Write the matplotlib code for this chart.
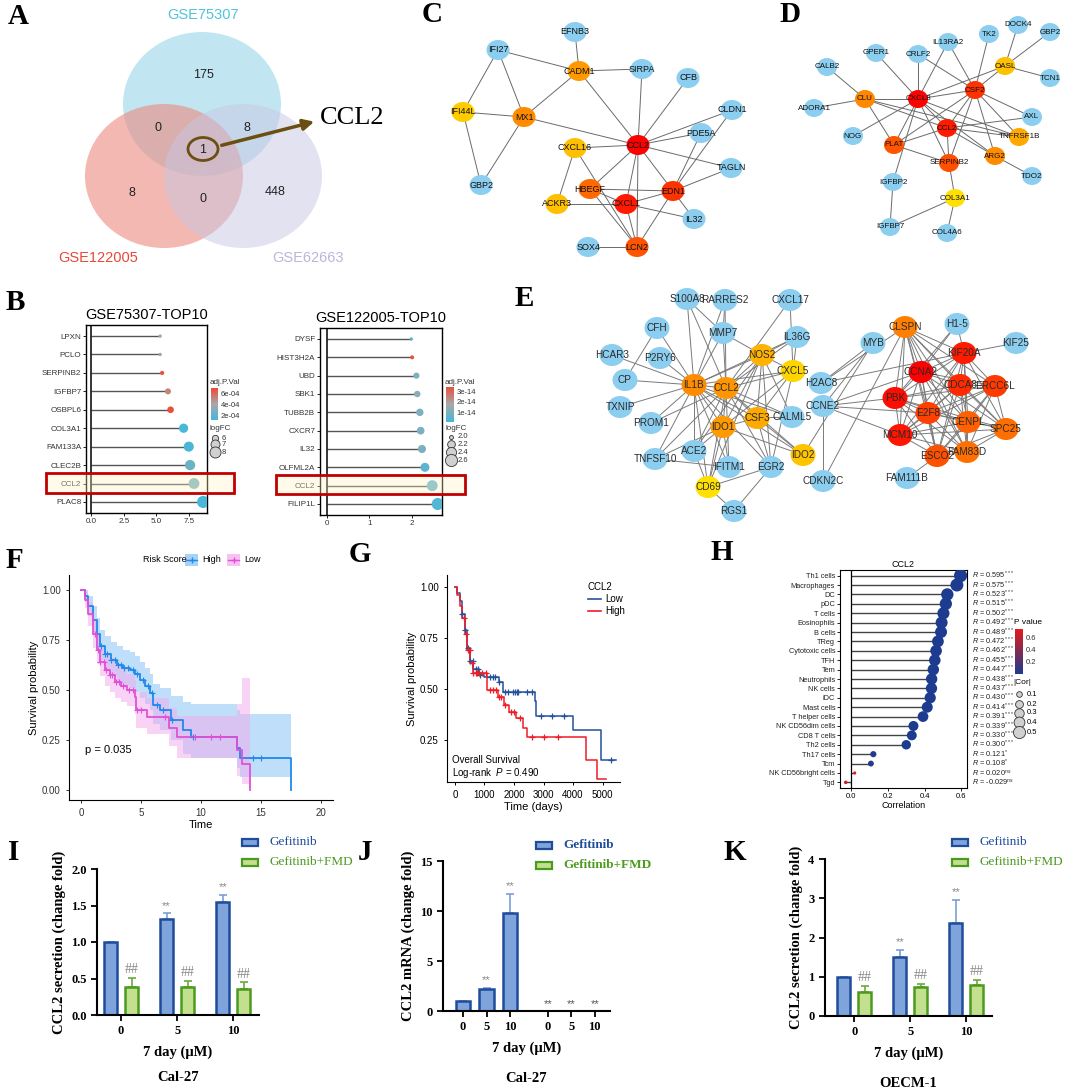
import itertools
import numpy as np
import matplotlib
matplotlib.use("Agg")
import matplotlib.pyplot as plt
from matplotlib.patches import Ellipse, Rectangle, FancyArrowPatch
from matplotlib.colors import LinearSegmentedColormap

plt.rcParams["font.family"] = ["Liberation Sans", "DejaVu Sans"]
plt.rcParams["mathtext.fontset"] = "custom"
plt.rcParams["mathtext.rm"] = "Liberation Sans"
plt.rcParams["mathtext.it"] = "Liberation Sans:italic"
plt.rcParams["axes.facecolor"] = "none"
SERIF = ["Liberation Serif", "DejaVu Serif"]

# ===============================
# DATA
# ===============================
# A - venn
venn_names = ["GSE75307", "GSE122005", "GSE62663"]
venn_counts = [175, 0, 8, 1, 8, 0, 448]   # T, T&R, T&P, all, R, R&P, P

# B - top10 lollipops
b1_genes = ["LPXN", "PCLO", "SERPINB2", "IGFBP7", "OSBPL6", "COL3A1", "FAM133A", "CLEC2B", "CCL2", "PLAC8"]
b1_logfc = [5.3, 5.3, 5.45, 5.9, 6.1, 7.1, 7.5, 7.6, 7.9, 8.6]
b1_padj = [3.6e-4, 4.4e-4, 6.6e-4, 5.2e-4, 6.8e-4, 1.3e-4, 1.4e-4, 2.3e-4, 2.6e-4, 1.3e-4]
b2_genes = ["DYSF", "HIST3H2A", "UBD", "SBK1", "TUBB2B", "CXCR7", "IL32", "OLFML2A", "CCL2", "FILIP1L"]
b2_logfc = [1.98, 2.0, 2.1, 2.12, 2.18, 2.2, 2.23, 2.3, 2.47, 2.6]
b2_padj = [0.4e-14, 3.3e-14, 1.0e-14, 1.2e-14, 1.0e-14, 0.95e-14, 0.95e-14, 0.45e-14, 0.5e-14, 0.3e-14]

# F - KM by risk score
f_high_t = [0, 0.3, 0.6, 1.0, 1.3, 1.6, 2.0, 2.5, 3.0, 3.5, 4.1, 4.5, 4.9, 5.3, 5.75, 6.0, 6.6, 7.5, 8.5, 9.2, 13.0, 13.25, 17.5]
f_high_s = [1.0, 0.97, 0.92, 0.85, 0.78, 0.72, 0.68, 0.65, 0.625, 0.61, 0.60, 0.58, 0.55, 0.52, 0.485, 0.425, 0.40, 0.35, 0.30, 0.265, 0.21, 0.16, 0.0]
f_high_up = [1.0, 1.0, 0.97, 0.92, 0.86, 0.80, 0.77, 0.74, 0.72, 0.70, 0.69, 0.67, 0.64, 0.61, 0.58, 0.53, 0.51, 0.47, 0.44, 0.43, 0.40, 0.38, 0.38]
f_high_lo = [1.0, 0.94, 0.87, 0.79, 0.71, 0.65, 0.60, 0.57, 0.54, 0.52, 0.51, 0.49, 0.46, 0.43, 0.40, 0.33, 0.30, 0.25, 0.18, 0.16, 0.11, 0.065, 0.065]
f_low_t = [0, 0.3, 0.6, 1.0, 1.3, 1.6, 2.0, 2.4, 2.8, 3.3, 3.8, 4.5, 4.6, 5.5, 7.3, 8.0, 13.0, 13.4, 14.1]
f_low_s = [1.0, 0.95, 0.88, 0.78, 0.70, 0.64, 0.60, 0.575, 0.54, 0.52, 0.50, 0.465, 0.40, 0.365, 0.31, 0.265, 0.20, 0.13, 0.0]
f_low_up = [1.0, 0.99, 0.94, 0.85, 0.78, 0.72, 0.68, 0.66, 0.62, 0.60, 0.58, 0.55, 0.49, 0.46, 0.41, 0.37, 0.43, 0.56, 0.56]
f_low_lo = [1.0, 0.91, 0.82, 0.71, 0.63, 0.57, 0.52, 0.49, 0.46, 0.44, 0.42, 0.38, 0.31, 0.28, 0.22, 0.16, 0.07, 0.03, 0.03]
f_high_cens = [1.7, 2.0, 2.2, 2.5, 2.8, 3.1, 3.3, 3.6, 3.9, 4.3, 4.7, 5.2, 5.6, 5.9, 6.3, 6.8, 7.6, 9.3, 14.3, 15.0]
f_low_cens = [1.2, 1.4, 1.6, 1.9, 2.1, 2.4, 2.6, 2.9, 3.2, 3.5, 4.0, 4.3, 4.7, 5.0, 7.0, 9.5, 10.8, 11.6]

# G - KM by CCL2
g_low_t = [0, 80, 160, 250, 330, 410, 520, 620, 800, 970, 1480, 1620, 2700, 2760, 4000, 4950, 5450]
g_low_s = [1.0, 0.97, 0.93, 0.87, 0.79, 0.70, 0.64, 0.60, 0.57, 0.56, 0.535, 0.485, 0.44, 0.37, 0.30, 0.15, 0.15]
g_high_t = [0, 80, 160, 250, 330, 410, 520, 620, 1100, 1450, 1650, 1830, 2070, 2300, 2450, 4450, 4800, 5100]
g_high_s = [1.0, 0.96, 0.91, 0.85, 0.77, 0.69, 0.63, 0.58, 0.495, 0.46, 0.42, 0.39, 0.36, 0.31, 0.265, 0.15, 0.06, 0.06]
g_low_cens = [250, 350, 450, 520, 600, 700, 780, 850, 1200, 1300, 1350, 1500, 1700, 1800, 1950, 2050, 2100, 2150, 2450, 2600, 2900, 3300, 3700, 5300]
g_high_cens = [300, 380, 450, 500, 560, 620, 700, 760, 820, 900, 1050, 1200, 1300, 1400, 1480, 1560, 1700, 1900, 2000, 2200, 2600, 3000, 3500]
g_groups = ["Low", "High"]

# H - immune correlation
h_cells = ["Th1 cells", "Macrophages", "DC", "pDC", "T cells", "Eosinophils", "B cells", "TReg",
           "Cytotoxic cells", "TFH", "Tem", "Neutrophils", "NK cells", "iDC", "Mast cells",
           "T helper cells", "NK CD56dim cells", "CD8 T cells", "Th2 cells", "Th17 cells", "Tcm",
           "NK CD56bright cells", "Tgd"]
h_r = [0.595, 0.575, 0.523, 0.515, 0.502, 0.492, 0.489, 0.472, 0.462, 0.455, 0.447, 0.438, 0.437,
       0.430, 0.414, 0.391, 0.339, 0.330, 0.300, 0.121, 0.108, 0.020, -0.029]
h_p = [1e-6] * 19 + [0.03, 0.04, 0.74, 0.64]
h_sig = ["***"] * 19 + ["*", "*", "ns", "ns"]

# I / J / K - bars
doses = ["0", "5", "10"]
i_gef = [1.0, 1.31, 1.55]
i_gef_err = [0.0, 0.09, 0.10]
i_fmd = [0.38, 0.38, 0.36]
i_fmd_err = [0.13, 0.09, 0.09]
j_gef = [1.0, 2.2, 9.8]
j_gef_err = [0.0, 0.1, 1.9]
j_fmd = [0.03, 0.03, 0.03]
k_gef = [1.0, 1.5, 2.38]
k_gef_err = [0.0, 0.18, 0.57]
k_fmd = [0.6, 0.73, 0.78]
k_fmd_err = [0.17, 0.08, 0.14]

# C / D / E - PPI networks (node name, x px, y px, colour)
BL = "#8CCEEF"
c_nodes = [("EFNB3", 575, 32, BL), ("CADM1", 579, 71, "#FF9900"), ("SIRPA", 642, 69, BL),
           ("CFB", 688, 78, BL), ("IFI27", 498, 50, BL), ("IFI44L", 463, 112, "#FFCC00"),
           ("MX1", 524, 117, "#FF8C00"), ("CLDN1", 732, 110, BL), ("PDE5A", 701, 133, BL),
           ("CXCL16", 575, 148, "#FFC000"), ("CCL2", 638, 145, "#FF0000"), ("GBP2", 481, 185, BL),
           ("TAGLN", 731, 168, BL), ("HBEGF", 590, 189, "#FF6A00"), ("EDN1", 673, 191, "#FF3300"),
           ("ACKR3", 557, 204, "#FFC000"), ("CXCL1", 626, 204, "#FF1A00"), ("IL32", 694, 219, BL),
           ("SOX4", 588, 247, BL), ("LCN2", 637, 247, "#FF5500")]
c_edges = [("EFNB3", "CADM1"), ("CADM1", "SIRPA"), ("CADM1", "CCL2"), ("CADM1", "MX1"), ("CADM1", "IFI27"),
           ("MX1", "CCL2"), ("MX1", "IFI44L"), ("MX1", "GBP2"), ("MX1", "IFI27"), ("IFI27", "IFI44L"),
           ("GBP2", "IFI44L"), ("SIRPA", "CCL2"), ("CFB", "CCL2"), ("CLDN1", "CCL2"), ("PDE5A", "CCL2"),
           ("TAGLN", "CCL2"), ("CXCL16", "CCL2"), ("CXCL16", "ACKR3"), ("CXCL16", "LCN2"),
           ("HBEGF", "CCL2"), ("HBEGF", "EDN1"), ("HBEGF", "LCN2"), ("HBEGF", "CXCL1"), ("ACKR3", "CXCL1"),
           ("CXCL1", "CCL2"), ("CXCL1", "EDN1"), ("CXCL1", "IL32"), ("CXCL1", "LCN2"), ("CCL2", "EDN1"),
           ("CCL2", "LCN2"), ("EDN1", "PDE5A"), ("EDN1", "TAGLN"), ("EDN1", "IL32"), ("EDN1", "LCN2"),
           ("SOX4", "LCN2"), ("CLDN1", "EDN1")]

d_nodes = [("DOCK4", 1018, 25, BL), ("GBP2", 1050, 32, BL), ("TK2", 989, 34, BL), ("IL13RA2", 948, 42, BL),
           ("GPER1", 876, 53, BL), ("CRLF2", 918, 54, BL), ("CALB2", 827, 67, BL), ("OASL", 1005, 66, "#FFC000"),
           ("TCN1", 1050, 78, BL), ("CSF2", 975, 90, "#FF3300"), ("CLU", 865, 99, "#FF8800"),
           ("CXCL8", 918, 99, "#FF0000"), ("ADORA1", 814, 108, BL), ("AXL", 1032, 117, BL),
           ("CCL2", 947, 128, "#FF1A00"), ("NOG", 853, 136, BL), ("TNFRSF1B", 1019, 137, "#FFAA00"),
           ("PLAT", 894, 145, "#FF5500"), ("ARG2", 995, 156, "#FF8C00"), ("SERPINB2", 949, 163, "#FF5000"),
           ("TDO2", 1032, 176, BL), ("IGFBP2", 893, 182, BL), ("COL3A1", 955, 198, "#FFE000"),
           ("IGFBP7", 890, 227, BL), ("COL4A6", 947, 233, BL)]
d_edges = [("CALB2", "CLU"), ("ADORA1", "CLU"), ("CLU", "CXCL8"), ("CLU", "PLAT"), ("CLU", "CCL2"),
           ("CLU", "TNFRSF1B"), ("GPER1", "CXCL8"), ("CRLF2", "CXCL8"), ("CRLF2", "CSF2"), ("IL13RA2", "CXCL8"),
           ("IL13RA2", "CSF2"), ("TK2", "CSF2"), ("DOCK4", "OASL"), ("GBP2", "OASL"), ("OASL", "TCN1"),
           ("OASL", "CSF2"), ("OASL", "CXCL8"), ("CSF2", "CXCL8"), ("CSF2", "CCL2"), ("CSF2", "AXL"),
           ("CSF2", "TNFRSF1B"), ("CSF2", "ARG2"), ("CSF2", "SERPINB2"), ("CSF2", "PLAT"), ("CXCL8", "CCL2"),
           ("CXCL8", "SERPINB2"), ("CXCL8", "PLAT"), ("CXCL8", "NOG"), ("CXCL8", "IGFBP2"),
           ("CXCL8", "TNFRSF1B"), ("CXCL8", "ARG2"), ("CCL2", "PLAT"), ("CCL2", "SERPINB2"), ("CCL2", "AXL"),
           ("CCL2", "TNFRSF1B"), ("CCL2", "ARG2"), ("PLAT", "SERPINB2"), ("ARG2", "TDO2"),
           ("SERPINB2", "COL3A1"), ("COL3A1", "IGFBP7"), ("COL3A1", "COL4A6"), ("IGFBP2", "IGFBP7")]

e_nodes = [("S100A8", 687, 299, BL), ("RARRES2", 725, 300, BL), ("CXCL17", 790, 300, BL),
           ("CFH", 657, 328, BL), ("MMP7", 723, 333, BL), ("IL36G", 797, 337, BL), ("HCAR3", 612, 355, BL),
           ("P2RY6", 660, 358, BL), ("NOS2", 762, 355, "#FFB300"), ("CXCL5", 793, 371, "#FFD500"),
           ("CP", 625, 380, BL), ("IL1B", 694, 385, "#FF8C00"), ("CCL2", 726, 388, "#FF9500"),
           ("TXNIP", 620, 407, BL), ("CSF3", 757, 418, "#FFAA00"), ("CALML5", 792, 417, BL),
           ("PROM1", 651, 423, BL), ("IDO1", 723, 427, "#FF9A00"), ("ACE2", 694, 451, BL),
           ("IDO2", 803, 455, "#FFC400"), ("TNFSF10", 655, 459, BL), ("IFITM1", 729, 467, BL),
           ("EGR2", 771, 467, BL), ("CD69", 708, 487, "#FFE000"), ("RGS1", 734, 511, BL),
           ("H2AC8", 821, 383, BL), ("CCNE2", 823, 406, BL), ("CDKN2C", 823, 481, BL), ("MYB", 873, 343, BL),
           ("CLSPN", 905, 327, "#FF8000"), ("H1-5", 957, 324, BL), ("KIF25", 1016, 343, BL),
           ("KIF20A", 964, 353, "#FF1A00"), ("CCNA2", 921, 372, "#FF0000"), ("CDCA8", 960, 385, "#FF2A00"),
           ("ERCC6L", 995, 386, "#FF3A00"), ("PBK", 895, 398, "#FF0D00"), ("E2F8", 928, 413, "#FF4000"),
           ("CENPL", 968, 422, "#FF6000"), ("SPC25", 1006, 429, "#FF6E00"), ("MCM10", 900, 435, "#FF1500"),
           ("FAM83D", 967, 452, "#FF7000"), ("ESCO2", 937, 456, "#FF5000"), ("FAM111B", 907, 478, BL)]
e_hubs = {
    "IL1B": ["CFH", "HCAR3", "CP", "TXNIP", "PROM1", "TNFSF10", "ACE2", "IDO1", "CCL2", "NOS2", "MMP7",
             "S100A8", "RARRES2", "CSF3", "CALML5", "IFITM1", "CD69", "EGR2", "IL36G", "CXCL5", "P2RY6", "IDO2"],
    "CCL2": ["MMP7", "NOS2", "CXCL5", "IDO1", "CSF3", "CALML5", "IFITM1", "CD69", "ACE2", "EGR2", "IDO2",
             "TNFSF10", "RARRES2", "CXCL17", "IL36G", "PROM1", "S100A8"],
    "NOS2": ["MMP7", "IL36G", "CXCL5", "IDO1", "CSF3", "EGR2", "CALML5", "CD69", "ACE2"],
    "CXCL5": ["IL36G", "CSF3", "EGR2", "IDO1", "CXCL17"],
    "CSF3": ["IDO1", "IDO2", "EGR2", "CALML5"],
    "IDO1": ["IDO2", "IFITM1", "CD69", "ACE2", "TNFSF10"],
    "EGR2": ["RGS1", "CD69"], "CD69": ["RGS1", "ACE2"], "TNFSF10": ["IFITM1"], "CP": ["CFH"],
    "MMP7": ["RARRES2", "S100A8"],
    "H2AC8": ["CLSPN", "KIF20A", "MYB"], "CCNE2": ["PBK", "MCM10", "CDKN2C", "CCNA2", "E2F8", "MYB"],
    "CDKN2C": ["CLSPN"], "IDO2": ["MYB"],
    "H1-5": ["KIF20A", "CCNA2", "PBK"], "KIF25": ["KIF20A"], "FAM111B": ["ESCO2"],
}
e_core = ["CLSPN", "KIF20A", "CCNA2", "CDCA8", "ERCC6L", "PBK", "E2F8", "CENPL", "SPC25", "MCM10", "FAM83D", "ESCO2"]

# ===============================
# FIGURE HELPERS
# ===============================
W, H = 1065, 1090
fig = plt.figure(figsize=(W / 100, H / 100), dpi=100)


def px_axes(x0, y0, x1, y1):
    return fig.add_axes([x0 / W, 1 - y1 / H, (x1 - x0) / W, (y1 - y0) / H])


def ftext(x, y, s, **kw):
    return fig.text(x / W, 1 - y / H, s, **kw)


def letter(x, y, s):
    ftext(x, y, s, fontsize=21, fontweight="bold", family=SERIF, ha="center", va="center")


def step_at(t, ts, ss):
    idx = np.searchsorted(ts, t, side="right") - 1
    return np.asarray(ss)[idx]


canvas = fig.add_axes([0, 0, 1, 1])
canvas.set_xlim(0, W)
canvas.set_ylim(H, 0)
canvas.axis("off")

# ===============================
# A - VENN
# ===============================
venn_xy = [(202, 104), (164, 176), (243, 176)]
venn_fc = ["#8ED3E6", "#EC8A7E", "#C9C7E4"]
venn_alpha = [0.55, 0.6, 0.5]
for (cx, cy), fc, al in zip(venn_xy, venn_fc, venn_alpha):
    canvas.add_patch(Ellipse((cx, cy), 158, 144, facecolor=fc, alpha=al, edgecolor="none", zorder=1))
venn_label_xy = [(203, 75), (158, 128), (247, 128), (203, 150), (132, 193), (203, 199), (275, 192)]
for (x, y), n in zip(venn_label_xy, venn_counts):
    canvas.text(x, y, str(n), fontsize=9, ha="center", va="center", color="#222", zorder=3)
canvas.text(203, 15, venn_names[0], fontsize=10.5, color="#4EC4DA", ha="center", va="center")
canvas.text(98, 258, venn_names[1], fontsize=10.5, color="#E8473A", ha="center", va="center")
canvas.text(308, 258, venn_names[2], fontsize=10.5, color="#B9B7DA", ha="center", va="center")
canvas.add_patch(Ellipse((203, 149), 30, 23, facecolor="none", edgecolor="#6B4F12", lw=2, zorder=4))
canvas.add_patch(FancyArrowPatch((219, 146), (317, 121), arrowstyle="-|>", mutation_scale=16,
                                 color="#6B4F12", lw=2.5, zorder=4))
canvas.text(320, 118, "CCL2", fontsize=19, family=SERIF, ha="left", va="center")

# ===============================
# C / D / E - NETWORKS
# ===============================


def draw_network(nodes, edges, w, h, fs, tc="#111111", ec="#6a6a6a"):
    pos = {n: (x, y) for n, x, y, c in nodes}
    for a, b in edges:
        canvas.plot([pos[a][0], pos[b][0]], [pos[a][1], pos[b][1]], color=ec, lw=0.7, zorder=1)
    for n, x, y, c in nodes:
        canvas.add_patch(Ellipse((x, y), w, h, facecolor=c, edgecolor="none", zorder=2))
        canvas.text(x, y, n, fontsize=fs, ha="center", va="center", color=tc, zorder=3)


draw_network(c_nodes, c_edges, 23, 20, 6.5)
draw_network(d_nodes, d_edges, 20, 18, 5.8)
e_edges = [(a, b) for a, lst in e_hubs.items() for b in lst] + list(itertools.combinations(e_core, 2))
draw_network(e_nodes, e_edges, 25, 22, 7.2, tc="#2a2a2a", ec="#7a7a7a")

# ===============================
# B - LOLLIPOPS
# ===============================
padj_cmap = LinearSegmentedColormap.from_list("padj", ["#45B8DA", "#A9A9A9", "#EE4B35"])


def lollipop(rect, genes, fc, padj, vmin, vmax, xlim, xticks, xlabels, title):
    ax = px_axes(*rect)
    y = np.arange(len(genes))[::-1]
    fc = np.asarray(fc)
    ax.hlines(y, 0, fc, color="#555555", lw=1.0, zorder=1)
    ax.axvline(0, color="black", lw=1.1, zorder=2)
    s = 6 + (fc - fc.min()) / (fc.max() - fc.min()) * 70
    ax.scatter(fc, y, s=s, c=padj, cmap=padj_cmap, vmin=vmin, vmax=vmax, edgecolors="none", zorder=3)
    ax.set_ylim(-0.6, len(genes) - 0.4)
    ax.set_xlim(*xlim)
    ax.set_yticks(y)
    ax.set_yticklabels(genes, fontsize=5.8, color="#333")
    ax.set_xticks(xticks)
    ax.set_xticklabels(xlabels, fontsize=5.8, color="#333")
    ax.tick_params(length=2, width=0.6, pad=1.5)
    for sp in ax.spines.values():
        sp.set_linewidth(1.0)
    ax.set_title(title, fontsize=10.5, pad=4)
    return ax, fc.min(), fc.max()


def colorbar_px(x0, y0, x1, y1, cmap, vmin, vmax, ticks, labels, fs):
    ax = px_axes(x0, y0, x1, y1)
    grad = np.linspace(vmin, vmax, 100).reshape(-1, 1)
    ax.imshow(grad, aspect="auto", cmap=cmap, origin="lower", extent=[0, 1, vmin, vmax], vmin=vmin, vmax=vmax)
    ax.set_xticks([])
    ax.set_yticks(ticks)
    ax.set_yticklabels(labels, fontsize=fs, color="#333")
    ax.yaxis.tick_right()
    ax.tick_params(axis="y", length=0, pad=2)
    for sp in ax.spines.values():
        sp.set_visible(False)
    return ax


ax_b1, lo1, hi1 = lollipop((86, 325, 207, 513), b1_genes, b1_logfc, b1_padj, 1.2e-4, 6.9e-4,
                           (-0.4, 8.9), [0, 2.5, 5, 7.5], ["0.0", "2.5", "5.0", "7.5"], "GSE75307-TOP10")
ax_b2, lo2, hi2 = lollipop((320, 328, 442, 515), b2_genes, b2_logfc, b2_padj, 0.05e-14, 3.4e-14,
                           (-0.16, 2.7), [0, 1, 2], ["0", "1", "2"], "GSE122005-TOP10")

ftext(210, 382, "adj.P.Val", fontsize=5.8, color="#333", va="center")
colorbar_px(211, 388, 218, 420, padj_cmap, 1.2e-4, 6.9e-4, [2e-4, 4e-4, 6e-4], ["2e-04", "4e-04", "6e-04"], 5.5)
ftext(210, 429, "logFC", fontsize=5.8, color="#333", va="center")
for v, yy in zip([6, 7, 8], [438, 444, 452]):
    canvas.scatter([215], [yy], s=6 + (v - lo1) / (hi1 - lo1) * 70, facecolor="#d0d0d0", edgecolor="#333", lw=0.6)
    canvas.text(222, yy, str(v), fontsize=5.5, va="center", color="#333")

ftext(445, 382, "adj.P.Val", fontsize=5.8, color="#333", va="center")
colorbar_px(446, 387, 454, 422, padj_cmap, 0.05e-14, 3.4e-14, [1e-14, 2e-14, 3e-14],
            ["1e-14", "2e-14", "3e-14"], 5.5)
ftext(445, 429, "logFC", fontsize=5.8, color="#333", va="center")
for v, yy in zip([2.0, 2.2, 2.4, 2.6], [437, 444, 452, 460]):
    canvas.scatter([451], [yy], s=6 + (v - lo2) / (hi2 - lo2) * 70, facecolor="#d0d0d0", edgecolor="#333", lw=0.6)
    canvas.text(458, yy, f"{v:.1f}", fontsize=5.5, va="center", color="#333")

for (x0, y0, x1, y1) in [(46, 473, 234, 493), (276, 475, 465, 494)]:
    fig.add_artist(Rectangle((x0 / W, 1 - y1 / H), (x1 - x0) / W, (y1 - y0) / H, transform=fig.transFigure,
                             facecolor="#FFF3C0", alpha=0.35, edgecolor="none"))
    fig.add_artist(Rectangle((x0 / W, 1 - y1 / H), (x1 - x0) / W, (y1 - y0) / H, transform=fig.transFigure,
                             facecolor="none", edgecolor="#C00000", lw=2))

# ===============================
# F - KM RISK SCORE
# ===============================
ax_f = px_axes(69, 575, 333, 800)
f_blue, f_pink = "#2188EC", "#E150D6"
ax_f.fill_between(f_high_t, f_high_lo, f_high_up, step="post", color="#8CC4F5", alpha=0.55, lw=0)
ax_f.fill_between(f_low_t, f_low_lo, f_low_up, step="post", color="#F3A9EC", alpha=0.5, lw=0)
ax_f.step(f_high_t, f_high_s, where="post", color=f_blue, lw=1.3)
ax_f.step(f_low_t, f_low_s, where="post", color=f_pink, lw=1.3)
ax_f.plot(f_high_cens, step_at(f_high_cens, f_high_t, f_high_s), "+", color=f_blue, ms=4, mew=0.8)
ax_f.plot(f_low_cens, step_at(f_low_cens, f_low_t, f_low_s), "+", color=f_pink, ms=4, mew=0.8)
ax_f.set_xlim(-1, 21)
ax_f.set_ylim(-0.05, 1.075)
ax_f.set_xticks([0, 5, 10, 15, 20])
ax_f.set_yticks([0, 0.25, 0.5, 0.75, 1.0])
ax_f.set_yticklabels(["0.00", "0.25", "0.50", "0.75", "1.00"])
ax_f.tick_params(labelsize=7, length=2.5, width=0.7, colors="#333")
ax_f.set_xlabel("Time", fontsize=8, labelpad=1)
ax_f.set_ylabel("Survival probability", fontsize=8, labelpad=2)
for sp in ["top", "right"]:
    ax_f.spines[sp].set_visible(False)
ax_f.text(0.3, 0.2, "p = 0.035", fontsize=8, va="center")
ftext(143, 560, "Risk Score", fontsize=6.5, va="center")
for x0, lab, c, fcol in [(185, "High", f_blue, "#A9D2F7"), (227, "Low", f_pink, "#F7C2F1")]:
    canvas.add_patch(Rectangle((x0, 554), 13, 12, facecolor=fcol, edgecolor="none"))
    canvas.plot([x0 + 1, x0 + 12], [560, 560], color=c, lw=1)
    canvas.plot([x0 + 6.5], [560], "+", color=c, ms=4)
    canvas.text(x0 + 17, 560, lab, fontsize=6.5, va="center")

# ===============================
# G - KM CCL2
# ===============================
ax_g = px_axes(447, 575, 620, 782)
g_blue, g_red = "#24519C", "#EE1C24"
ax_g.step(g_low_t, g_low_s, where="post", color=g_blue, lw=1.1)
ax_g.step(g_high_t, g_high_s, where="post", color=g_red, lw=1.1)
ax_g.plot(g_low_cens, step_at(g_low_cens, g_low_t, g_low_s), "+", color=g_blue, ms=4.5, mew=0.9)
ax_g.plot(g_high_cens, step_at(g_high_cens, g_high_t, g_high_s), "+", color=g_red, ms=4.5, mew=0.9)
ax_g.set_xlim(-270, 5590)
ax_g.set_ylim(0.044, 1.06)
ax_g.set_xticks([0, 1000, 2000, 3000, 4000, 5000])
ax_g.set_yticks([0.25, 0.5, 0.75, 1.0])
ax_g.set_yticklabels(["0.25", "0.50", "0.75", "1.00"])
ax_g.tick_params(labelsize=7, length=2.5, width=0.7)
ax_g.set_xlabel("Time (days)", fontsize=8, labelpad=1)
ax_g.set_ylabel("Survival probability", fontsize=8, labelpad=2)
for sp in ["top", "right"]:
    ax_g.spines[sp].set_visible(False)
ax_g.text(0.03, 0.106, "Overall Survival", transform=ax_g.transAxes, fontsize=7, va="center")
ax_g.text(0.03, 0.043, "Log-rank  $\\it{P}$ = 0.490", transform=ax_g.transAxes, fontsize=7, va="center")
canvas.text(588, 587, "CCL2", fontsize=7, va="center")
for yy, lab, c in zip([599, 611], g_groups, [g_blue, g_red]):
    canvas.plot([588, 601], [yy, yy], color=c, lw=1.2)
    canvas.text(605, yy, lab, fontsize=7, va="center")

# ===============================
# H - IMMUNE CORRELATION
# ===============================
ax_h = px_axes(840, 570, 967, 788)
p_cmap = LinearSegmentedColormap.from_list("pv", ["#1D3C8F", "#E41A1C"])
yh = np.arange(len(h_cells))[::-1]
h_r_arr = np.asarray(h_r)
ax_h.hlines(yh, 0, h_r_arr, color="#444", lw=1.0, zorder=1)
ax_h.axvline(0, color="black", lw=0.9)
h_abs = np.abs(h_r_arr)
h_s = 5 + (h_abs - h_abs.min()) / (h_abs.max() - h_abs.min()) * 85
ax_h.scatter(h_r_arr, yh, s=h_s, c=h_p, cmap=p_cmap, vmin=0.0, vmax=0.73, edgecolors="none", zorder=3)
ax_h.set_ylim(-0.6, len(h_cells) - 0.4)
ax_h.set_xlim(-0.06, 0.63)
ax_h.set_yticks(yh)
ax_h.set_yticklabels(h_cells, fontsize=5.3, color="#222")
ax_h.set_xticks([0, 0.2, 0.4, 0.6])
ax_h.set_xticklabels(["0.0", "0.2", "0.4", "0.6"], fontsize=5.5)
ax_h.tick_params(length=2, width=0.6, pad=1.5)
ax_h.set_xlabel("Correlation", fontsize=6.5, labelpad=1)
ax_h.set_title("CCL2", fontsize=6.5, pad=2)
for yy, r, sg in zip(yh, h_r, h_sig):
    ax_h.text(0.655, yy, f"$\\it{{R}}$ = {r:.3f}$^{{{sg}}}$", fontsize=5.3, va="center", ha="left",
              color="#222", clip_on=False)
ftext(1014, 623, "P value", fontsize=6, va="center")
colorbar_px(1015, 629, 1023, 674, p_cmap, 0.0, 0.73, [0.2, 0.4, 0.6], ["0.2", "0.4", "0.6"], 5.5)
ftext(1013, 683, "|Cor|", fontsize=6, va="center")
for v, yy in zip([0.1, 0.2, 0.3, 0.4, 0.5], [694, 704, 713, 722, 732]):
    canvas.scatter([1019], [yy], s=5 + (v - h_abs.min()) / (h_abs.max() - h_abs.min()) * 85,
                   facecolor="#d0d0d0", edgecolor="#333", lw=0.6)
    canvas.text(1027, yy, f"{v:.1f}", fontsize=5.5, va="center")

# ===============================
# I / J / K - BARS
# ===============================
BLUE_F, BLUE_E, BLUE_ERR = "#7EA4DB", "#1F4C9B", "#7C9ED5"
GREEN_F, GREEN_E, GREEN_ERR = "#C3E08E", "#4C9A1F", "#6BAA3A"


def style_bar_axes(ax, ylabel, yticks, ylabels):
    for sp in ["top", "right"]:
        ax.spines[sp].set_visible(False)
    for sp in ["left", "bottom"]:
        ax.spines[sp].set_linewidth(1.5)
    ax.set_yticks(yticks)
    ax.set_yticklabels(ylabels, fontsize=9, fontweight="bold", family=SERIF)
    ax.tick_params(axis="both", length=4, width=1.3)
    ax.set_ylabel(ylabel, fontsize=10.5, fontweight="bold", family=SERIF, labelpad=4)


def bar_legend(x, y, bold):
    wgt = "bold" if bold else "normal"
    for dy, lab, fc, ec in [(0, "Gefitinib", BLUE_F, BLUE_E), (20, "Gefitinib+FMD", GREEN_F, GREEN_E)]:
        canvas.add_patch(Rectangle((x, y + dy - 3.5), 16, 7, facecolor=fc, edgecolor=ec, lw=1.6, zorder=5))
        canvas.text(x + 27, y + dy, lab, fontsize=9.5, family=SERIF, fontweight=wgt, color=ec, va="center")


def grouped_panel(rect, gef, gef_err, fmd, fmd_err, ylim, yticks, ylabels, xlim, ylabel, star_pad, cell):
    ax = px_axes(*rect)
    x = np.arange(len(doses))
    off, bw = 0.1875, 0.235
    ax.bar(x - off, gef, bw, facecolor=BLUE_F, edgecolor=BLUE_E, lw=1.8, zorder=2)
    ax.bar(x + off, fmd, bw, facecolor=GREEN_F, edgecolor=GREEN_E, lw=1.8, zorder=2)
    ax.errorbar(x - off, gef, yerr=[np.zeros(len(x)), gef_err], fmt="none", ecolor=BLUE_ERR,
                elinewidth=1.2, capsize=3, capthick=1.2, zorder=1)
    ax.errorbar(x + off, fmd, yerr=[np.zeros(len(x)), fmd_err], fmt="none", ecolor=GREEN_ERR,
                elinewidth=1.2, capsize=3, capthick=1.2, zorder=1)
    for i in range(len(x)):
        if i > 0:
            ax.text(x[i] - off, gef[i] + gef_err[i] + star_pad, "**", ha="center", va="bottom",
                    fontsize=8, color="#888")
        ax.text(x[i] + off, fmd[i] + fmd_err[i] + star_pad * 0.6, "##", ha="center", va="bottom",
                fontsize=10, color="#888", family=SERIF)
    ax.set_xlim(*xlim)
    ax.set_ylim(*ylim)
    ax.set_xticks(x)
    ax.set_xticklabels(doses, fontsize=9, fontweight="bold", family=SERIF)
    style_bar_axes(ax, ylabel, yticks, ylabels)
    ax.set_xlabel("7 day (\u03bcM)", fontsize=10.5, fontweight="bold", family=SERIF, labelpad=6)
    ax.text(0.5, -0.43, cell, transform=ax.transAxes, ha="center", va="center", fontsize=10.5,
            fontweight="bold", family=SERIF)
    return ax


ax_i = grouped_panel((97, 869, 259, 1015), i_gef, i_gef_err, i_fmd, i_fmd_err, (0, 2.0),
                     [0, 0.5, 1.0, 1.5, 2.0], ["0.0", "0.5", "1.0", "1.5", "2.0"], (-0.43, 2.46),
                     "CCL2 secretion (change fold)", 0.03, "Cal-27")
bar_legend(242, 842, False)

ax_k = grouped_panel((825, 859, 992, 1016), k_gef, k_gef_err, k_fmd, k_fmd_err, (0, 4),
                     [0, 1, 2, 3, 4], ["0", "1", "2", "3", "4"], (-0.52, 2.46),
                     "CCL2 secretion (change fold)", 0.08, "OECM-1")
bar_legend(952, 842, False)

ax_j = px_axes(443, 861, 610, 1011)
jx_gef = np.array([0, 1, 2])
jx_fmd = np.array([3.6, 4.6, 5.6])
ax_j.bar(jx_gef, j_gef, 0.6, facecolor=BLUE_F, edgecolor=BLUE_E, lw=1.8, zorder=2)
ax_j.bar(jx_fmd, j_fmd, 0.6, facecolor=GREEN_F, edgecolor=GREEN_E, lw=1.0, zorder=2)
ax_j.errorbar(jx_gef, j_gef, yerr=[np.zeros(3), j_gef_err], fmt="none", ecolor=BLUE_ERR,
              elinewidth=1.2, capsize=3, capthick=1.2, zorder=1)
for xx, v, e in zip(jx_gef[1:], j_gef[1:], j_gef_err[1:]):
    ax_j.text(xx, v + e + 0.3, "**", ha="center", va="bottom", fontsize=8, color="#888")
for xx, v in zip(jx_fmd, j_fmd):
    ax_j.text(xx, v + 0.2, "**", ha="center", va="bottom", fontsize=8, color="#555")
ax_j.set_xlim(-0.85, 6.25)
ax_j.set_ylim(0, 15)
ax_j.set_xticks(np.concatenate([jx_gef, jx_fmd]))
ax_j.set_xticklabels(doses + doses, fontsize=9, fontweight="bold", family=SERIF)
style_bar_axes(ax_j, "CCL2 mRNA (change fold)", [0, 5, 10, 15], ["0", "5", "10", "15"])
ax_j.set_xlabel("7 day (\u03bcM)", fontsize=10.5, fontweight="bold", family=SERIF, labelpad=6)
ax_j.text(0.5, -0.45, "Cal-27", transform=ax_j.transAxes, ha="center", va="center", fontsize=10.5,
          fontweight="bold", family=SERIF)
bar_legend(536, 845, True)

# ===============================
# PANEL LETTERS
# ===============================
letter(18, 16, "A")
letter(432, 15, "C")
letter(790, 15, "D")
letter(15, 303, "B")
letter(524, 298, "E")
letter(14, 560, "F")
letter(360, 555, "G")
letter(722, 553, "H")
letter(14, 853, "I")
letter(365, 853, "J")
letter(735, 853, "K")

fig.savefig("out.png", dpi=100)
